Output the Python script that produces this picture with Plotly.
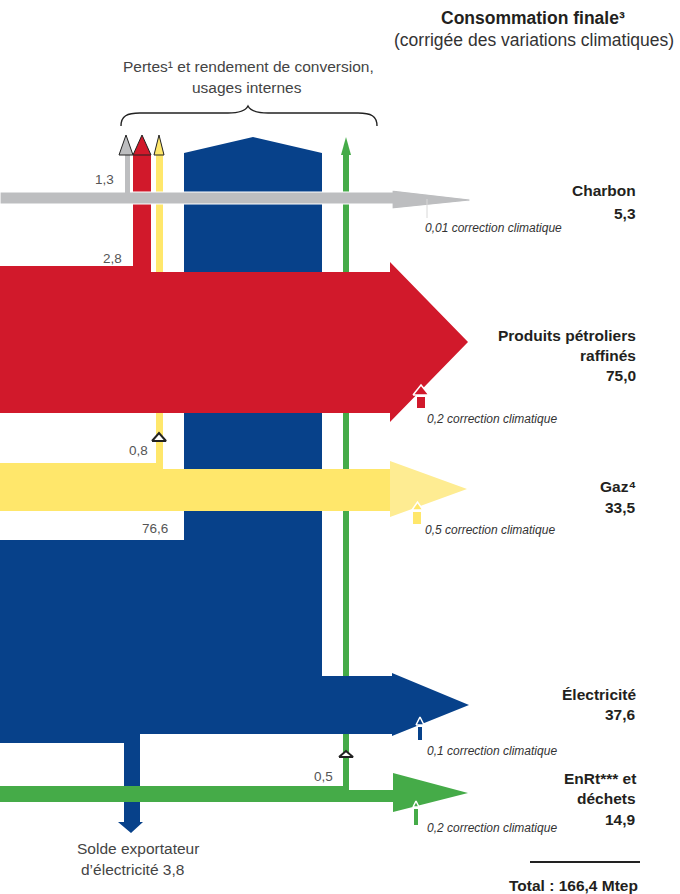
import plotly.graph_objects as go

# ---------------- data ----------------
flow_keys = ["charbon", "petrole", "gaz", "elec", "enrt"]
final_label_lines = [["Charbon"], ["Produits pétroliers", "raffinés"], ["Gaz⁴"],
                     ["Électricité"], ["EnRt*** et", "déchets"]]
final_consumption = [5.3, 75.0, 33.5, 37.6, 14.9]
climate_correction = [0.01, 0.2, 0.5, 0.1, 0.2]
losses_keys = ["charbon", "petrole", "gaz", "enrt"]
losses_values = [1.3, 2.8, 0.8, 0.5]
primary_electricity = 76.6
export_balance = 3.8
total_final = 166.4


def fr(v):
    return str(v).replace(".", ",")


# ---------------- styles / layout geometry ----------------
GREY = "#BDBEC0"
RED = "#D1192B"
YEL = "#FFE76B"
YEL_HEAD = "#FEEC92"
BLUE = "#07418A"
GREEN = "#45AB48"
TXT = "#231F20"
FONT = "Liberation Sans, Arial, sans-serif"

W, H = 680, 894

fig = go.Figure()


def poly(xs, ys, fill, line_color=None, line_width=0):
    fig.add_trace(go.Scatter(
        x=list(xs) + [xs[0]], y=list(ys) + [ys[0]], mode="lines", fill="toself",
        fillcolor=fill,
        line=dict(color=line_color or fill, width=line_width),
        hoverinfo="skip", showlegend=False))


def rect(x0, y0, x1, y1, fill, **kw):
    poly([x0, x1, x1, x0], [y0, y0, y1, y1], fill, **kw)


# 1. green vertical (under bands)
rect(343, 155, 349, 795, GREEN)
poly([341, 346, 351], [155, 137, 155], GREEN)

# 2. blue electricity body incl. export arrow
poly([0, 184, 184, 253, 322, 322, 392, 392, 469, 392, 392, 140, 140, 143, 131, 118, 124, 124, 0],
     [540, 540, 153, 137, 153, 676, 676, 673, 705, 736, 734, 734, 822, 822, 833, 822, 822, 743, 743],
     BLUE)

# 3. yellow vertical (losses gas)
rect(156, 155, 163, 470, YEL)
poly([154, 159, 164], [155, 135, 155], YEL, line_color="#222", line_width=1)

# 4. red band with loss branch
poly([0, 133, 133, 151, 151, 390, 390, 468, 390, 390, 0],
     [266, 266, 155, 155, 272, 272, 262, 342, 422, 413, 413], RED)
poly([133, 142, 151], [155, 135, 155], RED, line_color="#222", line_width=1)

# 5. yellow band
poly([0, 163, 163, 391, 391, 0], [463, 463, 469, 469, 511, 511], YEL)
poly([390, 467, 390], [461, 489, 517], YEL_HEAD)

# 6. grey band (on top, white edge)
poly([0, 392, 392, 470, 470, 392, 392, 0], [192, 192, 190, 199, 201, 209, 204, 204], GREY,
     line_color="white", line_width=1.2)
rect(125, 155, 130, 199, GREY)
poly([119, 126, 133], [155, 135, 155], GREY, line_color="#222", line_width=1)

# 7. green band (on top of export arrow)
poly([0, 349, 349, 393, 393, 468, 393, 393, 0],
     [786, 786, 790, 790, 773, 793, 812, 802, 802], GREEN)

# 8. small loss-direction triangles
poly([152, 159, 166], [441, 433, 441], "white", line_color="#222", line_width=2)
poly([339, 346, 353], [757, 751, 757], "white", line_color="#222", line_width=2)

# 9. climate-correction arrows
corr_arrows = {
    "petrole": dict(tri=([413, 421, 429], [395, 385, 395]), rc=(417, 397, 425, 408), col=RED),
    "gaz": dict(tri=([412, 417.5, 423], [510, 502, 510]), rc=(413, 512, 421, 524), col=YEL),
    "elec": dict(tri=([416, 420, 424], [725, 717, 725]), rc=(418, 727, 422, 740), col=BLUE),
    "enrt": dict(tri=([413, 416, 419], [807, 801, 807]), rc=(414, 809, 418, 825), col=GREEN),
}
for k, a in corr_arrows.items():
    rect(*a["rc"], a["col"])
    poly(a["tri"][0], a["tri"][1], a["col"], line_color="white", line_width=1.5)
# coal: tiny thin arrow
fig.add_trace(go.Scatter(x=[427, 427], y=[199, 218], mode="lines",
                         line=dict(color="#D8D8D8", width=1), hoverinfo="skip", showlegend=False))

# brace + total rule
shapes = [
    dict(type="path", xref="x", yref="y",
         path="M121,126 C121,116 127,113 140,113 L228,113 C240,113 246,110 248,106 "
              "C250,110 256,113 268,113 L358,113 C371,113 377,116 377,126",
         line=dict(color="#222", width=1.4)),
    dict(type="line", xref="x", yref="y", x0=530, x1=640, y0=862, y1=862,
         line=dict(color="#222", width=2)),
]

# ---------------- texts ----------------
ann = []


def txt(x, y, s, size, color=TXT, bold=False, italic=False, anchor="center"):
    if bold:
        s = "<b>" + s + "</b>"
    if italic:
        s = "<i>" + s + "</i>"
    ann.append(dict(x=x, y=y, xref="x", yref="y", text=s, showarrow=False,
                    xanchor=anchor, yanchor="middle",
                    font=dict(family=FONT, size=size, color=color)))


txt(533, 18, "Consommation finale³", 17.5, bold=True)
txt(534, 40, "(corrigée des variations climatiques)", 17.5, color="#333")
txt(248, 66, "Pertes¹ et rendement de conversion,", 15.5, color="#444")
txt(247, 87, "usages internes", 15.5, color="#444")

# right labels
label_y = {"charbon": [190], "petrole": [335, 355], "gaz": [486], "elec": [694], "enrt": [778, 798]}
value_y = {"charbon": 213, "petrole": 375, "gaz": 507, "elec": 714, "enrt": 819}
corr_pos = {"charbon": (423, 228), "petrole": (425, 419), "gaz": (423, 530),
            "elec": (425, 751), "enrt": (425, 828)}
for k, lines, v, c in zip(flow_keys, final_label_lines, final_consumption, climate_correction):
    for yy, line in zip(label_y[k], lines):
        txt(638, yy, line, 15.5, bold=True, anchor="right")
    txt(638, value_y[k], fr(v), 15.5, bold=True, anchor="right")
    cx, cy = corr_pos[k]
    txt(cx, cy, fr(c) + " correction climatique", 12, color="#333", italic=True, anchor="left")

# losses labels
loss_pos = {"charbon": (104, 179), "petrole": (112, 258), "gaz": (138, 450), "enrt": (323, 776)}
for k, v in zip(losses_keys, losses_values):
    x, y = loss_pos[k]
    txt(x, y, fr(v), 13.5, color="#555")
txt(155, 528, fr(primary_electricity), 13.5, color="#555")

txt(138, 848, "Solde exportateur", 15.5, color="#444")
txt(132, 869, "d’électricité " + fr(export_balance), 15.5, color="#444")

txt(640, 885, "Total : " + fr(total_final) + " Mtep", 15.5, bold=True, anchor="right")

fig.update_layout(
    width=W, height=H, margin=dict(l=0, r=0, t=0, b=0),
    paper_bgcolor="white", plot_bgcolor="white",
    xaxis=dict(range=[0, W], visible=False, fixedrange=True),
    yaxis=dict(range=[H, 0], visible=False, fixedrange=True),
    shapes=shapes, annotations=ann, showlegend=False,
)

fig.write_html("out.html", config={"displayModeBar": False},
               post_script="document.body.style.margin='0';")
